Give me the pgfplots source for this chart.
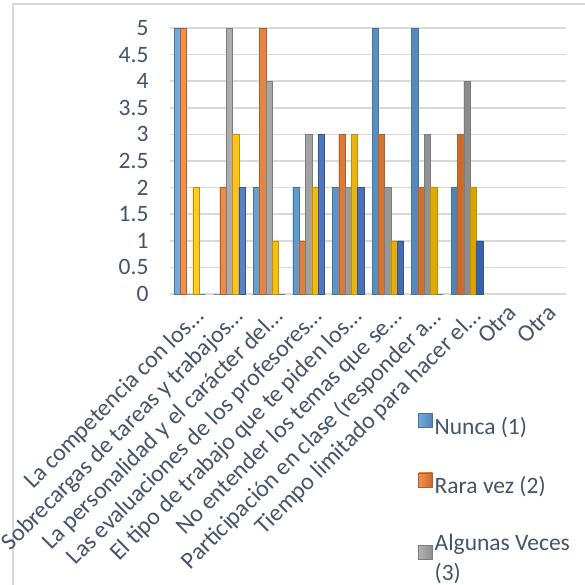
\documentclass[border=0pt]{standalone}
\usepackage{pgfplots}
\pgfplotsset{compat=1.18}
\usepackage{pgfplotstable}
\usepackage{fontspec}
\setmainfont{Carlito}

\definecolor{txt}{RGB}{68,84,106}
\definecolor{gridc}{RGB}{217,217,217}
\definecolor{cA}{RGB}{91,155,213}
\definecolor{cB}{RGB}{237,125,49}
\definecolor{cC}{RGB}{165,165,165}
\definecolor{cD}{RGB}{255,192,0}
\definecolor{cE}{RGB}{68,114,196}

% frequency counts per reason (categories 9 and 10, "Otra", have no answers)
\pgfplotstableread{
x nunca rara algunas casi siempre
1 5 5 0 2 0
2 0 2 5 3 2
3 2 5 4 1 0
4 2 1 3 2 3
5 2 3 2 3 2
6 5 3 2 1 1
7 5 2 3 2 0
8 2 3 4 2 1
}\datos

\newcommand{\lbl}{\fontsize{23.5bp}{30bp}\selectfont}
\newcommand{\cat}{\fontsize{24bp}{30bp}\selectfont}
\newcommand{\otra}{\raisebox{6.5bp}[\height][\depth]{Otra}\hspace{28.5bp}}

\begin{document}
\begin{tikzpicture}
\useasboundingbox (0,0) rectangle (585bp,585bp);
\clip (0,0) rectangle (585bp,585bp);
\fill[white] (0,0) rectangle (585bp,585bp);
% chart frame
\draw[gridc, line width=1.3bp] (13bp,-2bp) -- (13bp,581bp) -- (590bp,581bp);
\begin{axis}[
  at={(170bp,291bp)}, anchor=south west,
  scale only axis, width=396bp, height=266bp,
  xmin=0.5, xmax=10.5, ymin=0, ymax=5,
  ybar=0pt, bar width=6.3bp,
  axis line style={draw=none},
  ymajorgrids, grid style={gridc, line width=1.7bp},
  ytick={0,0.5,1,1.5,2,2.5,3,3.5,4,4.5,5},
  xtick={1,2,3,4,5,6,7,8,9,10},
  xticklabels={La competencia con los…,
    Sobrecargas de tareas y trabajos…,
    La personalidad y el carácter del…,
    Las evaluaciones de los profesores…,
    El tipo de trabajo que te piden los…,
    No entender los temas que se…,
    Participación en clase (responder a…,
    Tiempo limitado para hacer el…,
    \otra, \otra},
  major tick length=0pt,
  /pgf/number format/assume math mode=true,
  tick label style={font=\lbl, text=txt},
  yticklabel style={xshift=-18bp},
  xticklabel style={font=\cat, xshift=13bp, yshift=-17bp, rotate=45, anchor=east},
  legend style={at={(0.619,-0.44)}, anchor=north west, draw=none, fill=none,
    font=\lbl, text=txt, row sep=35bp,
    cells={anchor=west, align=left}},
  legend cell align=left,
  legend image code/.code={\fill[#1] (0bp,-1bp) rectangle (14bp,13bp);},
  every axis plot/.append style={line width=0.4bp},
]
\addplot[fill=cA, draw=cA!75!black, left color=cA!85!white, right color=cA!85!black] table[x=x, y=nunca] {\datos};
\addplot[fill=cB, draw=cB!75!black, left color=cB!85!white, right color=cB!85!black] table[x=x, y=rara] {\datos};
\addplot[fill=cC, draw=cC!75!black, left color=cC!85!white, right color=cC!85!black] table[x=x, y=algunas] {\datos};
\addplot[fill=cD, draw=cD!75!black, left color=cD!85!white, right color=cD!85!black] table[x=x, y=casi] {\datos};
\addplot[fill=cE, draw=cE!75!black, left color=cE!85!white, right color=cE!85!black] table[x=x, y=siempre] {\datos};
\legend{Nunca (1), Rara vez (2), {Algunas Veces\\(3)}, Casi siempre (4), Siempre (5)}
\end{axis}
\end{tikzpicture}
\end{document}
